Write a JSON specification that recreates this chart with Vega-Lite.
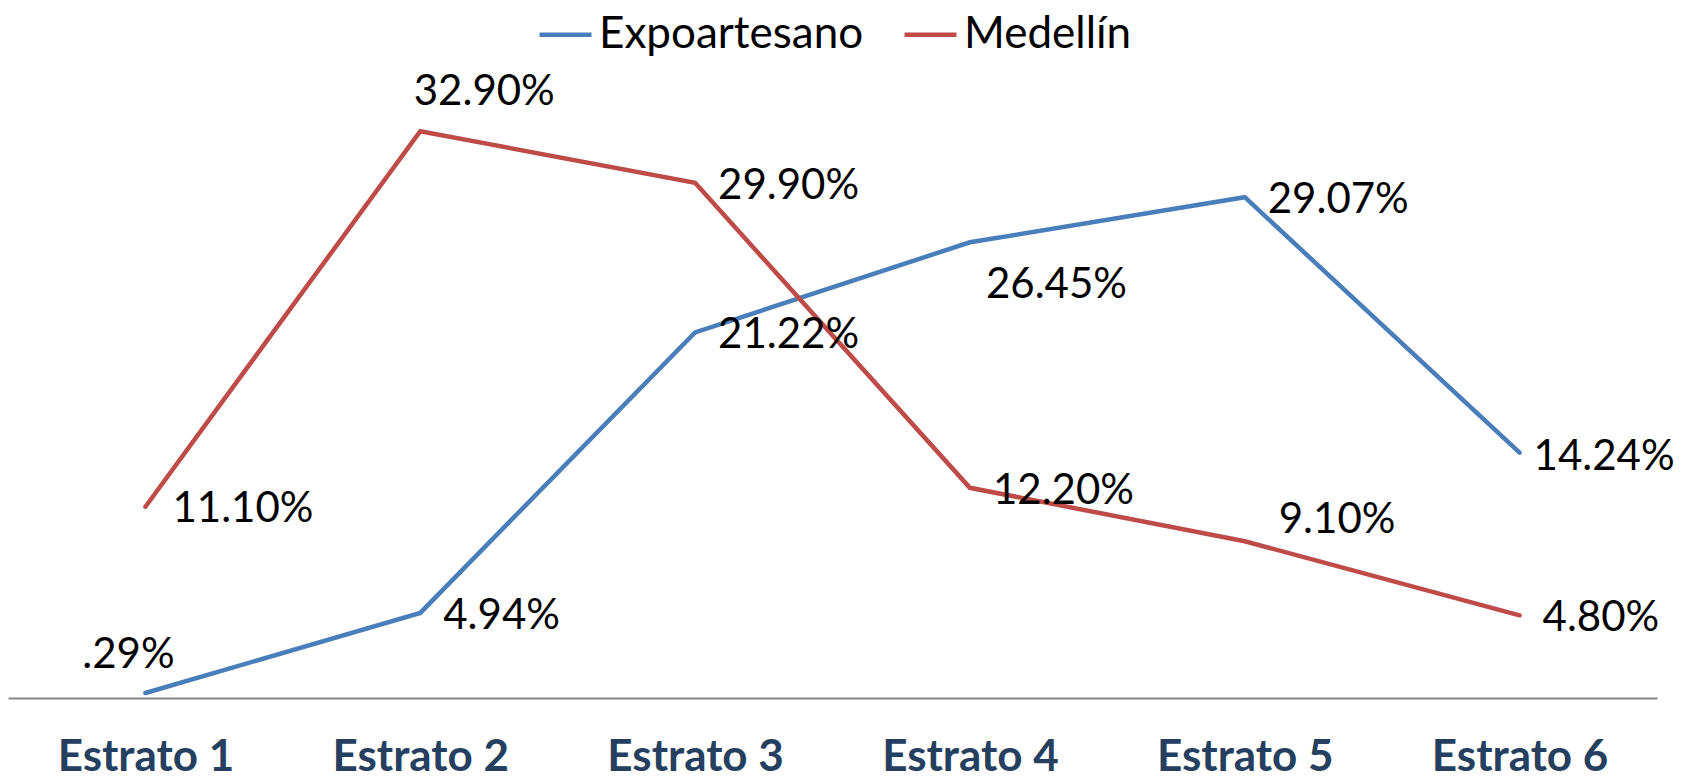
{
  "$schema": "https://vega.github.io/schema/vega-lite/v6.json",
  "autosize": {"type": "none"},
  "width": 1649,
  "height": 603,
  "padding": {"left": 8, "top": 95, "right": 26, "bottom": 80},
  "background": "white",
  "config": {"view": {"stroke": null}, "font": "Lato"},
  "data": {
    "values": [
      {"estrato": "Estrato 1", "serie": "Expoartesano", "valor": 0.29, "etiqueta": ".29%"},
      {"estrato": "Estrato 2", "serie": "Expoartesano", "valor": 4.94, "etiqueta": "4.94%"},
      {"estrato": "Estrato 3", "serie": "Expoartesano", "valor": 21.22, "etiqueta": "21.22%"},
      {"estrato": "Estrato 4", "serie": "Expoartesano", "valor": 26.45, "etiqueta": "26.45%"},
      {"estrato": "Estrato 5", "serie": "Expoartesano", "valor": 29.07, "etiqueta": "29.07%"},
      {"estrato": "Estrato 6", "serie": "Expoartesano", "valor": 14.24, "etiqueta": "14.24%"},
      {"estrato": "Estrato 1", "serie": "Medellín", "valor": 11.10, "etiqueta": "11.10%"},
      {"estrato": "Estrato 2", "serie": "Medellín", "valor": 32.90, "etiqueta": "32.90%"},
      {"estrato": "Estrato 3", "serie": "Medellín", "valor": 29.90, "etiqueta": "29.90%"},
      {"estrato": "Estrato 4", "serie": "Medellín", "valor": 12.20, "etiqueta": "12.20%"},
      {"estrato": "Estrato 5", "serie": "Medellín", "valor": 9.10, "etiqueta": "9.10%"},
      {"estrato": "Estrato 6", "serie": "Medellín", "valor": 4.80, "etiqueta": "4.80%"}
    ]
  },
  "encoding": {
    "x": {
      "field": "estrato",
      "type": "nominal",
      "sort": ["Estrato 1", "Estrato 2", "Estrato 3", "Estrato 4", "Estrato 5", "Estrato 6"],
      "scale": {"type": "point", "padding": 0.5},
      "axis": {
        "title": null,
        "labelAngle": 0,
        "labelFont": "Lato",
        "labelFontWeight": "bold",
        "labelFontSize": 44,
        "labelColor": "#243F60",
        "ticks": false,
        "tickSize": 0,
        "domainColor": "#868686",
        "domainWidth": 2,
        "labelPadding": 37,
        "grid": false
      }
    },
    "y": {
      "field": "valor",
      "type": "quantitative",
      "scale": {"domain": [0, 35], "nice": false, "zero": true},
      "axis": null
    }
  },
  "layer": [
    {
      "mark": {"type": "line", "strokeWidth": 4.5, "strokeCap": "round"},
      "encoding": {
        "color": {
          "field": "serie",
          "type": "nominal",
          "scale": {"domain": ["Expoartesano", "Medellín"], "range": ["#4A7EBB", "#BE4B48"]},
          "legend": {
            "orient": "none",
            "direction": "horizontal",
            "legendX": 529,
            "legendY": -89,
            "title": null,
            "symbolType": "stroke",
            "symbolStrokeWidth": 4.5,
            "symbolSize": 2700,
            "labelFont": "Lato",
            "labelFontSize": 44,
            "labelLimit": 0,
            "labelColor": "black",
            "columnPadding": 31,
            "labelOffset": 5
          }
        }
      }
    },
    {
      "transform": [{"filter": {"field": "etiqueta", "oneOf": ["21.22%", "29.90%", "29.07%", "12.20%", "4.80%", "4.94%"]}}],
      "mark": {"type": "text", "font": "Lato", "fontSize": 42, "color": "black", "align": "left", "baseline": "middle", "dx": 23, "dy": 3},
      "encoding": {"text": {"field": "etiqueta"}}
    },
    {
      "transform": [{"filter": {"field": "etiqueta", "equal": "11.10%"}}],
      "mark": {"type": "text", "font": "Lato", "fontSize": 42, "color": "black", "align": "left", "baseline": "middle", "dx": 27, "dy": 2},
      "encoding": {"text": {"field": "etiqueta"}}
    },
    {
      "transform": [{"filter": {"field": "etiqueta", "equal": "14.24%"}}],
      "mark": {"type": "text", "font": "Lato", "fontSize": 42, "color": "black", "align": "left", "baseline": "middle", "dx": 14, "dy": 4},
      "encoding": {"text": {"field": "etiqueta"}}
    },
    {
      "transform": [{"filter": {"field": "etiqueta", "equal": ".29%"}}],
      "mark": {"type": "text", "font": "Lato", "fontSize": 42, "color": "black", "align": "center", "baseline": "middle", "dx": -17, "dy": -38},
      "encoding": {"text": {"field": "etiqueta"}}
    },
    {
      "transform": [{"filter": {"field": "etiqueta", "equal": "32.90%"}}],
      "mark": {"type": "text", "font": "Lato", "fontSize": 42, "color": "black", "align": "center", "baseline": "middle", "dx": 64, "dy": -39},
      "encoding": {"text": {"field": "etiqueta"}}
    },
    {
      "transform": [{"filter": {"field": "etiqueta", "equal": "26.45%"}}],
      "mark": {"type": "text", "font": "Lato", "fontSize": 42, "color": "black", "align": "left", "baseline": "middle", "dx": 16, "dy": 43},
      "encoding": {"text": {"field": "etiqueta"}}
    },
    {
      "transform": [{"filter": {"field": "etiqueta", "equal": "9.10%"}}],
      "mark": {"type": "text", "font": "Lato", "fontSize": 42, "color": "black", "align": "left", "baseline": "middle", "dx": 34, "dy": -21},
      "encoding": {"text": {"field": "etiqueta"}}
    }
  ]
}
